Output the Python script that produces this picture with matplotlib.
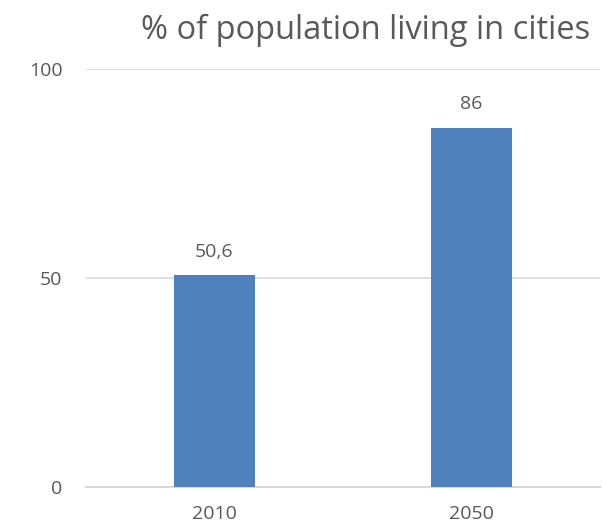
import matplotlib.pyplot as plt
import numpy as np

years = ["2010", "2050"]
share = [50.6, 86]
labels = ["50,6", "86"]
y_ticks = [0, 50, 100]

plt.rcParams['font.family'] = ['Open Sans', 'DejaVu Sans']
text_col = '#595959'
grid_col = '#D9D9D9'

fig = plt.figure(figsize=(6.03, 5.27), dpi=100)
ax = fig.add_axes([86 / 603, 1 - 487 / 527, 514 / 603, (487 - 69) / 527])

x = np.arange(len(years))
bars = ax.bar(x, share, width=0.315, color='#4F81BD', zorder=3)
for b, lab in zip(bars, labels):
    ax.annotate(lab, (b.get_x() + b.get_width() / 2, b.get_height()),
                xytext=(0, 13.5), textcoords='offset points',
                ha='center', va='baseline', fontsize=14, color=text_col)

ax.set_xlim(-0.5, len(years) - 0.5)
ax.set_ylim(0, 100)
ax.set_xticks(x)
ax.set_xticklabels(years)
ax.set_yticks(y_ticks)
ax.tick_params(axis='both', length=0, labelsize=14, labelcolor=text_col)
ax.tick_params(axis='y', pad=17)
ax.tick_params(axis='x', pad=13)
ax.yaxis.grid(True, color=grid_col, linewidth=1.2, zorder=0)
for s in ['top', 'right', 'left']:
    ax.spines[s].set_visible(False)
ax.spines['bottom'].set_color(grid_col)
ax.spines['bottom'].set_linewidth(1.5)

fig.text(590 / 603, 1 - 39 / 527, "% of population living in cities",
         ha='right', va='baseline', fontsize=23.5, color=text_col)

fig.savefig('out.png', dpi=100)
